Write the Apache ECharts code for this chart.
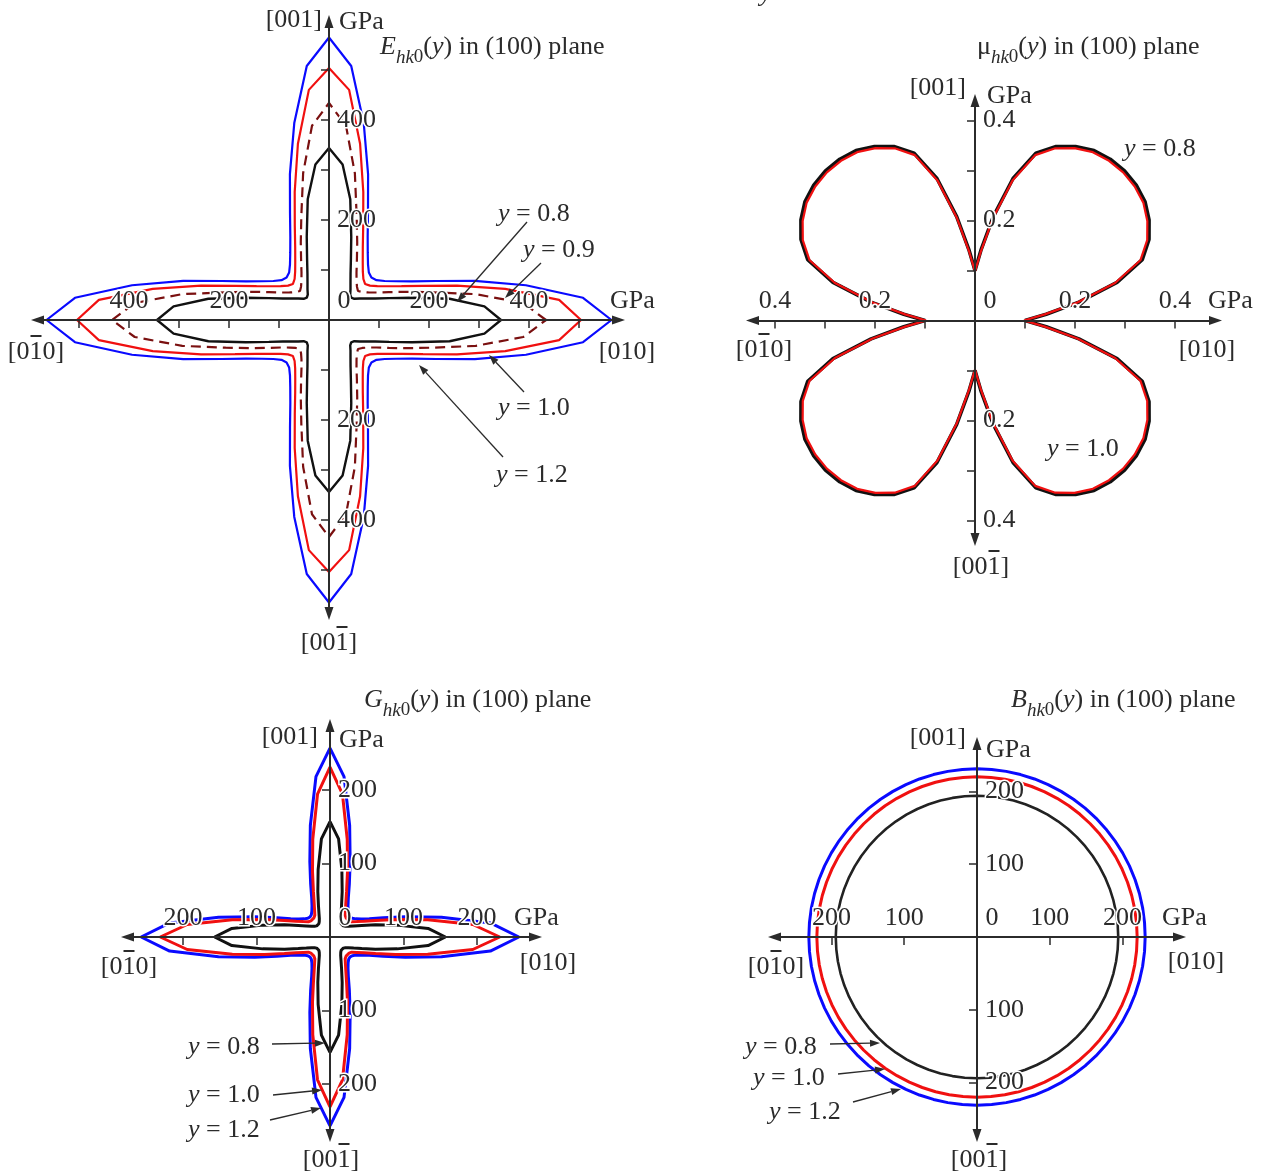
<!DOCTYPE html>
<html>
<head>
<meta charset="utf-8">
<script src="https://cdn.jsdelivr.net/npm/echarts@6/dist/echarts.min.js"></script>
<style>
html, body { margin: 0; background: #fff; }
#chart { width: 1262px; height: 1176px; }
</style>
</head>
<body>
<div id="chart"></div>
<script>
// polar angles of one quadrant, deg (curves are symmetric about 45 deg)
var ANGLES = [0, 5, 10, 15, 20, 25, 30, 35, 40, 45];

// Young's modulus E, GPa
var E_Y08 = [344, 312, 245, 172, 128, 102, 86, 75, 66, 63];
var E_Y09 = [434, 390, 298, 214, 165, 132, 110, 96, 87, 82];
var E_Y10 = [504, 462, 358, 265, 200, 160, 135, 118, 107, 102];
var E_Y12 = [565, 510, 400, 302, 228, 183, 155, 136, 124, 120];

// Poisson ratio mu
var MU_Y08 = [0.100, 0.143, 0.211, 0.294, 0.356, 0.384, 0.402, 0.415, 0.421, 0.423];
var MU_Y10 = [0.098, 0.140, 0.208, 0.290, 0.352, 0.380, 0.398, 0.411, 0.417, 0.419];

// shear modulus G, GPa
var G_Y08 = [157, 134, 93, 64, 46, 35.5, 29, 25.5, 23.6, 23];
var G_Y10 = [231, 195, 135, 92, 66, 51, 42, 36, 34, 33];
var G_Y12 = [257, 219, 154, 106, 77, 59, 49, 43, 39.5, 38.5];

// bulk modulus B, GPa (same in every direction)
var B_Y08 = [194];
var B_Y10 = [220];
var B_Y12 = [231];

// axis ticks and labels
var E_TICKS = [-500, -400, -300, -200, -100, 100, 200, 300, 400, 500];
var E_LABELS = [-400, -200, 200, 400];
var MU_TICKS = [-0.4, -0.3, -0.2, -0.1, 0.1, 0.2, 0.3, 0.4];
var MU_LABELS = [-0.4, -0.2, 0.2, 0.4];
var GB_TICKS = [-200, -100, 100, 200];
var GB_LABELS = [-200, -100, 100, 200];

var FONT = 'Liberation Serif';
var FS = 26;
var INK = '#2b2b2b';
var BLUE = '#0a0aff', RED = '#f01010', DARK = '#7a1010', BLACK = '#111';

// ox, oy = origin px, s = px per unit, xTip/yTip = arrow tips px
var panels = [
  { ox: 329, oy: 320, s: 0.5, xTip: [31, 625], yTip: [15, 620], rmax: 600, ticks: E_TICKS, labels: E_LABELS },
  { ox: 975, oy: 320.5, s: 500, xTip: [746, 1222], yTip: [94, 546], rmax: 0.5, ticks: MU_TICKS, labels: MU_LABELS },
  { ox: 330, oy: 937, s: 0.735, xTip: [121, 542], yTip: [719, 1142], rmax: 300, ticks: GB_TICKS, labels: GB_LABELS },
  { ox: 977, oy: 937, s: 0.728, xTip: [768, 1186], yTip: [737, 1142], rmax: 300, ticks: GB_TICKS, labels: GB_LABELS }
];

function ring(q) {
  var out = [];
  var step = ANGLES[1] - ANGLES[0];
  for (var a = 0; a <= 360; a += step) {
    var m = a % 90;
    var j = m <= 45 ? m / step : (90 - m) / step;
    out.push([q[q.length === 1 ? 0 : j], a]);
  }
  return out;
}

var HEAD = 6.5;
var grid = [], xAxis = [], yAxis = [], polar = [], angleAxis = [], radiusAxis = [];

panels.forEach(function (p, i) {
  var l = p.xTip[0] + HEAD, r = p.xTip[1] - HEAD, t = p.yTip[0] + HEAD, b = p.yTip[1] - HEAD;
  grid.push({ left: l, top: t, width: r - l, height: b - t });
  var common = {
    type: 'value', gridIndex: i, z: 5,
    axisLine: { onZero: true, symbol: ['triangle', 'triangle'], symbolSize: [9, 13], lineStyle: { color: INK, width: 2 } },
    axisTick: { show: true, inside: false, length: 8, customValues: p.ticks, lineStyle: { color: INK, width: 1.5 } },
    axisLabel: { show: false },
    splitLine: { show: false }
  };
  xAxis.push(Object.assign({}, common, { position: 'bottom', min: (l - p.ox) / p.s, max: (r - p.ox) / p.s }));
  yAxis.push(Object.assign({}, common, { position: 'left', min: -(b - p.oy) / p.s, max: (p.oy - t) / p.s }));
  polar.push({ center: [p.ox, p.oy], radius: p.rmax * p.s });
  angleAxis.push({ polarIndex: i, type: 'value', min: 0, max: 360, startAngle: 0, clockwise: false, show: false });
  radiusAxis.push({ polarIndex: i, type: 'value', min: 0, max: p.rmax, show: false });
});

function curve(pi, q, color, width, dash) {
  return {
    type: 'line', coordinateSystem: 'polar', polarIndex: pi, data: ring(q),
    symbol: 'none', silent: true, z: 2,
    lineStyle: { color: color, width: width, type: dash || 'solid' }
  };
}

var series = [
  curve(0, E_Y12, BLUE, 2.2), curve(0, E_Y10, RED, 2.2), curve(0, E_Y09, DARK, 2.2, [10, 6]), curve(0, E_Y08, BLACK, 2.4),
  curve(1, MU_Y08, BLACK, 3.6), curve(1, MU_Y10, RED, 2.2),
  curve(2, G_Y12, BLUE, 3), curve(2, G_Y10, RED, 3), curve(2, G_Y08, BLACK, 3),
  curve(3, B_Y12, BLUE, 3), curve(3, B_Y10, RED, 3), curve(3, B_Y08, '#222', 2.6)
];

// ---- text, titles and pointer arrows ----
var RICH = {
  i: { fontStyle: 'italic', fontFamily: FONT, fontSize: FS, fill: INK, lineHeight: 40 },
  m: { fontFamily: FONT, fontSize: FS, fill: INK, lineHeight: 40 },
  s: { fontStyle: 'italic', fontFamily: FONT, fontSize: 19, fill: INK, lineHeight: 19, verticalAlign: 'bottom' },
  z: { fontFamily: FONT, fontSize: 19, fill: INK, lineHeight: 19, verticalAlign: 'bottom' }
};
function txt(x, y, text, align, halo) {
  var st = { text: text, x: x, y: y, fill: INK, fontSize: FS, fontFamily: FONT, lineHeight: 40, align: align || 'left', verticalAlign: 'middle', rich: RICH };
  if (halo) { st.stroke = '#fff'; st.lineWidth = 3; }
  return { type: 'text', z: 50, silent: true, style: st };
}
var ctx = document.createElement('canvas').getContext('2d');
ctx.font = FS + 'px "' + FONT + '"';
function dirLabel(cx, y, text, bar) {
  var els = [txt(cx, y, text, 'center')];
  if (bar >= 0) {
    var w = ctx.measureText(text).width;
    var x0 = cx - w / 2 + ctx.measureText(text.slice(0, bar)).width;
    var cw = ctx.measureText(text.charAt(bar)).width;
    els.push({ type: 'line', z: 50, silent: true, shape: { x1: x0 + 1, y1: y - 16, x2: x0 + cw - 1, y2: y - 16 }, style: { stroke: INK, lineWidth: 2 } });
  }
  return els;
}
function arrow(x1, y1, x2, y2) {
  var a = Math.atan2(y2 - y1, x2 - x1), L = 10, W = 3.5;
  var bx = x2 - L * Math.cos(a), by = y2 - L * Math.sin(a);
  return [
    { type: 'line', z: 50, silent: true, shape: { x1: x1, y1: y1, x2: bx, y2: by }, style: { stroke: INK, lineWidth: 1.3 } },
    { type: 'polygon', z: 50, silent: true, shape: { points: [[x2, y2], [bx - W * Math.sin(a), by + W * Math.cos(a)], [bx + W * Math.sin(a), by - W * Math.cos(a)]] }, style: { fill: INK } }
  ];
}
// tick labels sit beside the crossing axes: above the horizontal one, right of the vertical one
function tickLabels(p) {
  var els = [];
  p.labels.forEach(function (v) {
    els.push(txt(p.ox + v * p.s, p.oy - 19, String(Math.abs(v)), 'center', true));
    els.push(txt(p.ox + 8, p.oy - v * p.s, String(Math.abs(v)), 'left', true));
  });
  els.push(txt(p.ox + 15, p.oy - 19, '0', 'center', true));
  return els;
}

var graphic = [].concat(
  tickLabels(panels[0]), tickLabels(panels[1]), tickLabels(panels[2]), tickLabels(panels[3]),
  // E panel
  txt(380, 47, '{i|E}{s|hk}{z|0}({i|y}) in (100) plane'),
  txt(322, 20, '[001]', 'right'), txt(339, 22, 'GPa'), txt(610, 301, 'GPa'),
  dirLabel(36, 352, '[010]', 2), dirLabel(627, 352, '[010]', -1), dirLabel(329, 643, '[001]', 3),
  txt(498, 214, '{i|y} = 0.8'), arrow(527, 222, 457, 302),
  txt(523, 250, '{i|y} = 0.9'), arrow(541, 263, 505, 298),
  txt(498, 408, '{i|y} = 1.0'), arrow(524, 392, 489, 355),
  txt(496, 475, '{i|y} = 1.2'), arrow(503, 457, 419, 365),
  // mu panel
  txt(760, -6, '{i|y}'),
  txt(977, 47, '{m|\u03bc}{s|hk}{z|0}({i|y}) in (100) plane'),
  txt(966, 88, '[001]', 'right'), txt(987, 96, 'GPa'), txt(1208, 301, 'GPa'),
  dirLabel(764, 350, '[010]', 2), dirLabel(1207, 350, '[010]', -1), dirLabel(981, 567, '[001]', 3),
  txt(1124, 149, '{i|y} = 0.8'), txt(1047, 449, '{i|y} = 1.0'),
  // G panel
  txt(364, 700, '{i|G}{s|hk}{z|0}({i|y}) in (100) plane'),
  txt(318, 737, '[001]', 'right'), txt(339, 740, 'GPa'), txt(514, 918, 'GPa'),
  dirLabel(129, 967, '[010]', 2), dirLabel(548, 963, '[010]', -1), dirLabel(331, 1160, '[001]', 3),
  txt(188, 1047, '{i|y} = 0.8'), arrow(272, 1044, 325, 1043),
  txt(188, 1095, '{i|y} = 1.0'), arrow(273, 1095, 322, 1090),
  txt(188, 1130, '{i|y} = 1.2'), arrow(270, 1120, 321, 1108),
  // B panel
  txt(1011, 700, '{i|B}{s|hk}{z|0}({i|y}) in (100) plane'),
  txt(966, 738, '[001]', 'right'), txt(986, 750, 'GPa'), txt(1162, 918, 'GPa'),
  dirLabel(776, 967, '[010]', 2), dirLabel(1196, 962, '[010]', -1), dirLabel(979, 1160, '[001]', 3),
  txt(745, 1047, '{i|y} = 0.8'), arrow(830, 1044, 880, 1043),
  txt(753, 1078, '{i|y} = 1.0'), arrow(838, 1074, 885, 1069),
  txt(769, 1112, '{i|y} = 1.2'), arrow(853, 1102, 901, 1089)
);

var myChart = echarts.init(document.getElementById('chart'));
var option = {
  animation: false,
  backgroundColor: '#fff',
  grid: grid,
  xAxis: xAxis,
  yAxis: yAxis,
  polar: polar,
  angleAxis: angleAxis,
  radiusAxis: radiusAxis,
  series: series,
  graphic: graphic
};
myChart.setOption(option);
</script>
</body>
</html>
